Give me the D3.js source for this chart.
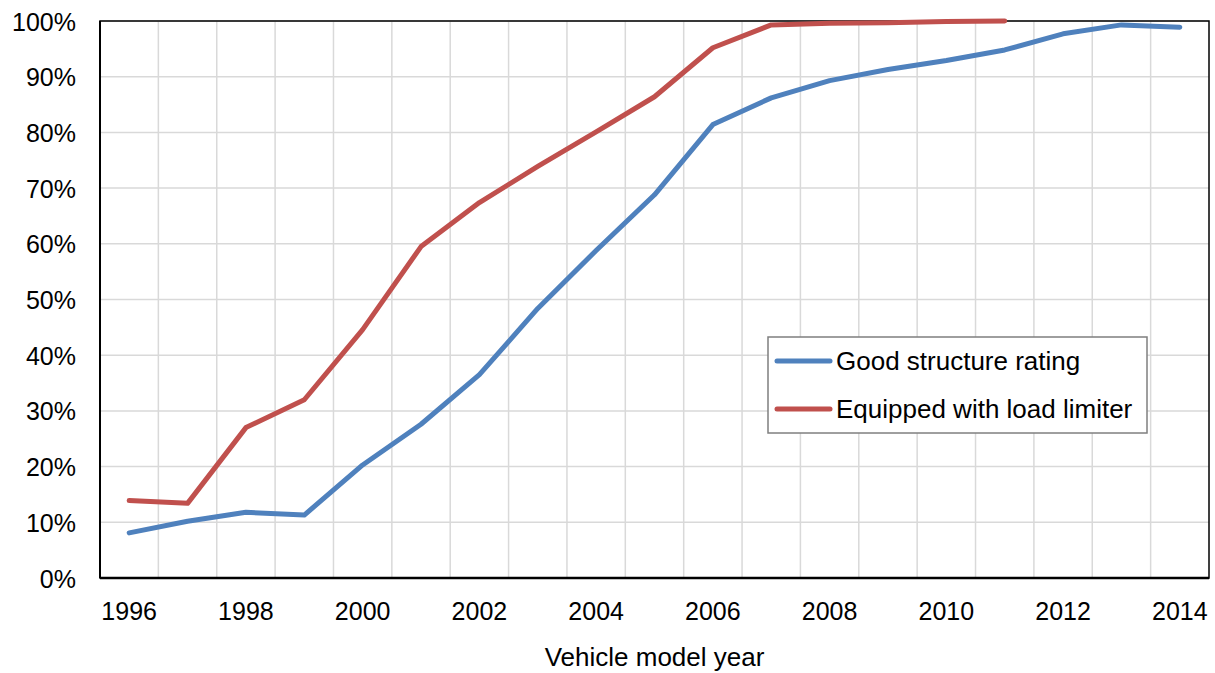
<!DOCTYPE html>
<html>
<head>
<meta charset="utf-8">
<script src="https://cdn.jsdelivr.net/npm/d3@7"></script>
<style>
  html, body { margin: 0; padding: 0; background: #fff; }
  svg { display: block; font-family: "Liberation Sans", Arial, sans-serif; }
</style>
</head>
<body>
<svg id="chart" width="1215" height="673"></svg>
<script>
const years = [1996,1997,1998,1999,2000,2001,2002,2003,2004,2005,2006,2007,2008,2009,2010,2011,2012,2013,2014];
const goodStructure = [8.1,10.2,11.8,11.3,20.3,27.6,36.5,48.4,58.8,68.8,81.4,86.2,89.3,91.3,92.9,94.8,97.7,99.3,98.9];
const loadLimiter = [13.9,13.4,27.0,32.0,44.6,59.5,67.4,73.9,80.1,86.4,95.2,99.3,99.6,99.7,99.9,100.0,null,null,null];
const yTicks = [0,10,20,30,40,50,60,70,80,90,100];
const xTickLabels = [1996,1998,2000,2002,2004,2006,2008,2010,2012,2014];
const seriesNames = ["Good structure rating","Equipped with load limiter"];
const seriesColors = ["#4F81BD","#C0504D"];

const svg = d3.select("#chart");
const L = 100, R = 1209, T = 21, B = 578;

const x = d3.scaleBand().domain(years).range([L, R]).padding(0);
const y = d3.scaleLinear().domain([0, 100]).range([B, T]);
const cx = d => x(d) + x.bandwidth() / 2;

// gridlines
const grid = svg.append("g");
grid.selectAll("line.h").data(yTicks.slice(1)).enter().append("line")
  .attr("x1", L).attr("x2", R).attr("y1", d => y(d)).attr("y2", d => y(d))
  .attr("stroke", "#d9d9d9").attr("stroke-width", 1.5);
grid.selectAll("line.v").data(years.slice(1)).enter().append("line")
  .attr("x1", d => x(d)).attr("x2", d => x(d)).attr("y1", T).attr("y2", B)
  .attr("stroke", "#d9d9d9").attr("stroke-width", 1.5);

// plot frame
svg.append("rect").attr("x", L).attr("y", T).attr("width", R - L).attr("height", B - T)
  .attr("fill", "none").attr("stroke", "#000").attr("stroke-width", 1.5);
svg.append("line").attr("x1", L).attr("x2", R).attr("y1", B).attr("y2", B)
  .attr("stroke", "#000").attr("stroke-width", 2.5);
svg.append("line").attr("x1", L).attr("x2", L).attr("y1", T).attr("y2", B)
  .attr("stroke", "#000").attr("stroke-width", 2);

// y axis labels
const yAxis = d3.axisLeft(y).tickValues(yTicks).tickSize(0).tickPadding(0).tickFormat(d => d + "%");
const ya = svg.append("g").attr("transform", `translate(${L - 24},0)`).call(yAxis);
ya.select(".domain").remove();
ya.selectAll("text").attr("font-size", 25).attr("fill", "#000")
  .attr("font-family", "Liberation Sans, Arial, sans-serif").attr("dy", "0.36em");

// x axis labels
const xAxis = d3.axisBottom(x).tickValues(xTickLabels).tickSize(0).tickPadding(0);
const xa = svg.append("g").attr("transform", `translate(0,${B + 24})`).call(xAxis);
xa.select(".domain").remove();
xa.selectAll("text").attr("font-size", 25).attr("fill", "#000")
  .attr("font-family", "Liberation Sans, Arial, sans-serif").attr("dy", "0.72em");

// axis title
svg.append("text").attr("x", (L + R) / 2).attr("y", 666).attr("text-anchor", "middle")
  .attr("font-size", 26).attr("fill", "#000").text("Vehicle model year");

// lines
const line = d3.line().defined(d => d.v != null).x(d => cx(d.year)).y(d => y(d.v));
[goodStructure, loadLimiter].forEach((vals, i) => {
  svg.append("path")
    .datum(years.map((yr, j) => ({ year: yr, v: vals[j] })))
    .attr("fill", "none").attr("stroke", seriesColors[i]).attr("stroke-width", 5)
    .attr("stroke-linecap", "round").attr("stroke-linejoin", "round")
    .attr("d", line);
});

// legend
const lg = svg.append("g");
lg.append("rect").attr("x", 768).attr("y", 337).attr("width", 379).attr("height", 96)
  .attr("fill", "#fff").attr("stroke", "#7f7f7f").attr("stroke-width", 1.5);
seriesNames.forEach((name, i) => {
  const yy = 361 + i * 48;
  lg.append("line").attr("x1", 777).attr("x2", 830).attr("y1", yy).attr("y2", yy)
    .attr("stroke", seriesColors[i]).attr("stroke-width", 5).attr("stroke-linecap", "round");
  lg.append("text").attr("x", 836).attr("y", yy).attr("dy", "0.36em")
    .attr("font-size", 26).attr("fill", "#000").text(name);
});
</script>
</body>
</html>
